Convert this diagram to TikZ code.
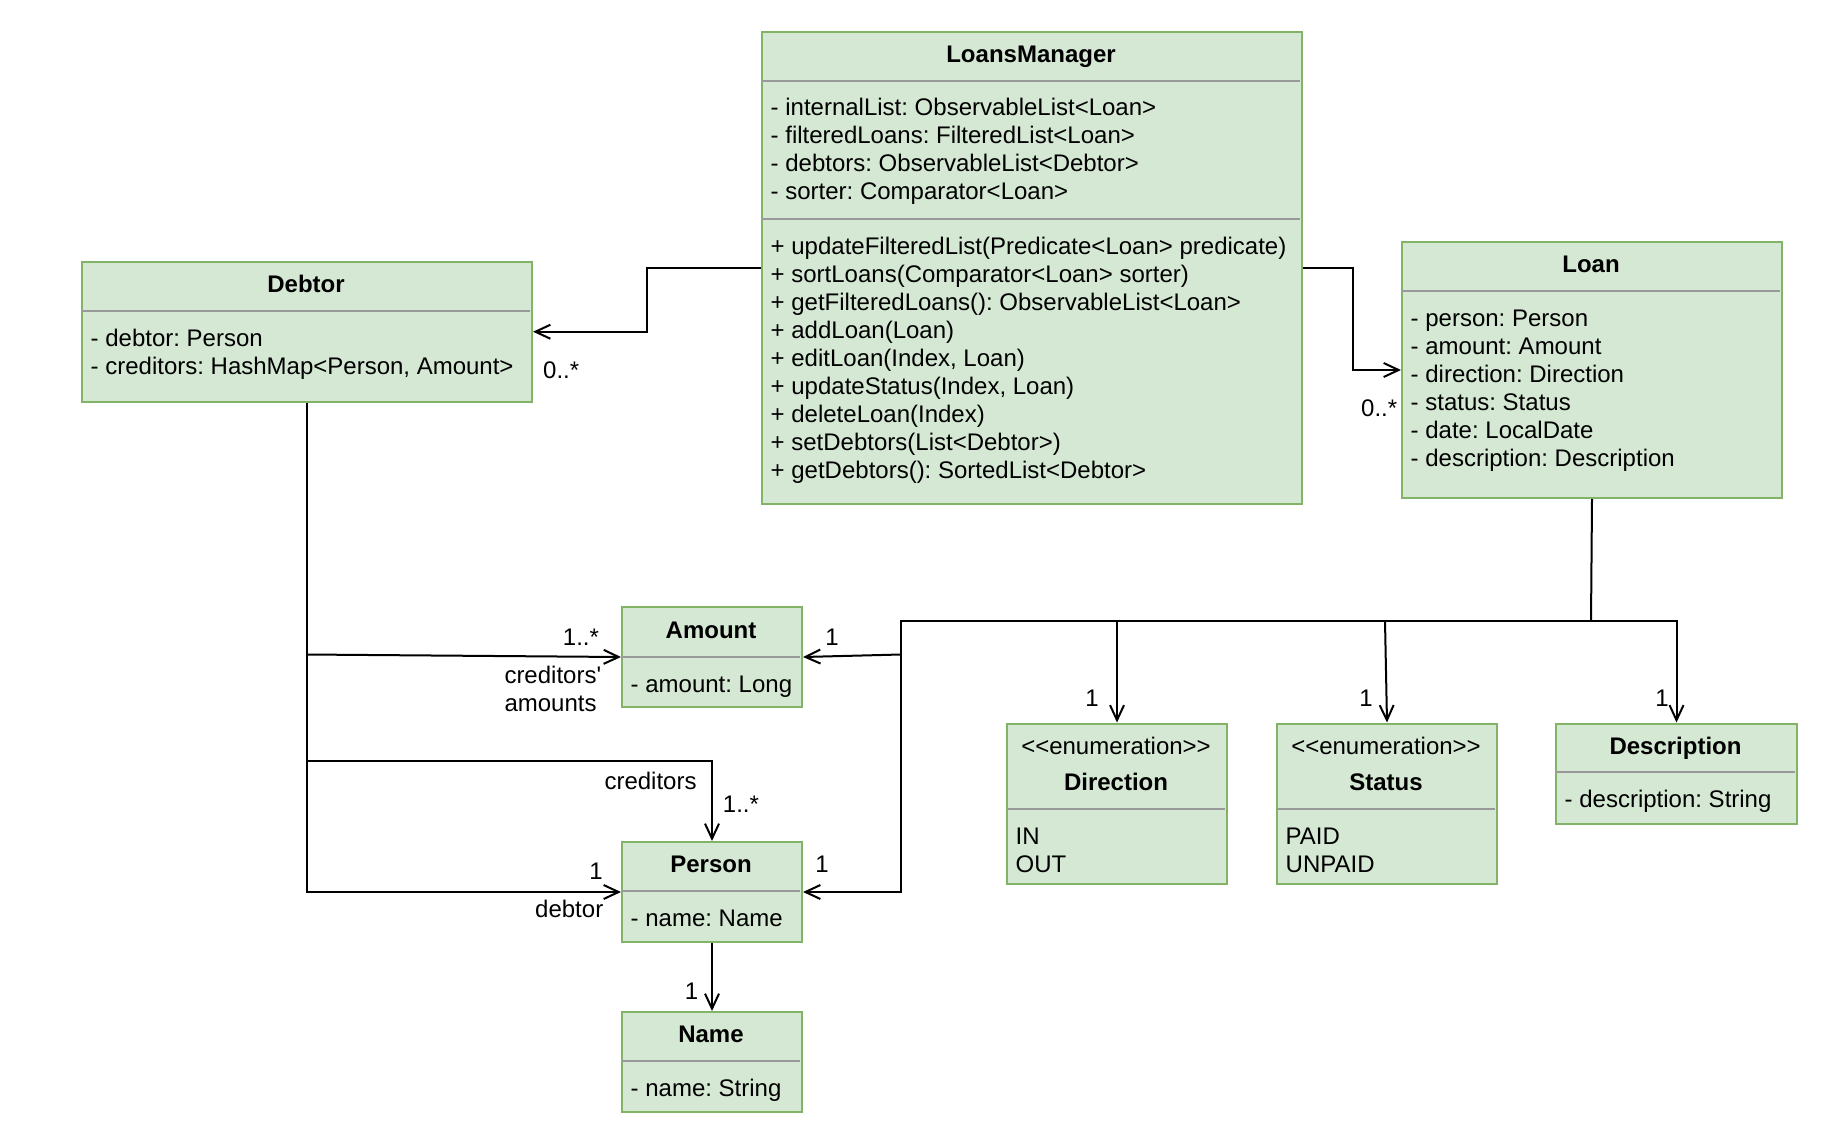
\documentclass[tikz,border=0pt]{standalone}
\usepackage{fontspec}
\setmainfont{Liberation Sans}[Ligatures=TeXOff]
\usetikzlibrary{arrows.meta}
\definecolor{boxfill}{HTML}{D5E8D4}
\definecolor{boxline}{HTML}{82B366}
\definecolor{divline}{HTML}{999999}
\frenchspacing
\newcount\tcnt
\newcommand\txtl[3]{\global\advance\tcnt by 1\relax\node[txt,anchor=base west] (t\the\tcnt) at (#1,#2) {#3};}
\newcommand\txtc[3]{\global\advance\tcnt by 1\relax\node[txt,anchor=base] (t\the\tcnt) at (#1,#2) {#3};}
\begin{document}
\begin{tikzpicture}[x=1pt,y=-1pt,
  font=\fontsize{24}{28}\selectfont\frenchspacing,
  cls/.style={rectangle, draw=boxline, fill=boxfill, line width=2pt, anchor=north west, inner sep=0pt},
  divl/.style={draw=divline, line width=2pt},
  txt/.style={inner sep=0pt},
  ttl/.style={inner sep=0pt, anchor=base, font=\fontsize{24}{28}\selectfont\bfseries},
  conn/.style={draw=black, line width=2pt},
  arr/.style={conn, -{Straight Barb[length=15pt,width=14pt]}}]
\useasboundingbox (0,0) rectangle (1822,1142);

% ---------- LoansManager
\node[cls, minimum width=540pt, minimum height=471.5pt] (lm) at (761,31) {};
\draw[divl] (762,81) -- (1300,81);
\draw[divl] (762,219) -- (1300,219);
\node[ttl] (lmt) at (1031,63) {LoansManager};
\txtl{770.5}{116}{- internalList: ObservableList<Loan>}
\txtl{770.5}{144}{- filteredLoans: FilteredList<Loan>}
\txtl{770.5}{172}{- debtors: ObservableList<Debtor>}
\txtl{770.5}{200}{- sorter: Comparator<Loan>}
\txtl{770.5}{254}{+ updateFilteredList(Predicate<Loan> predicate)}
\txtl{770.5}{282}{+ sortLoans(Comparator<Loan> sorter)}
\txtl{770.5}{310}{+ getFilteredLoans(): ObservableList<Loan>}
\txtl{770.5}{338}{+ addLoan(Loan)}
\txtl{770.5}{366}{+ editLoan(Index, Loan)}
\txtl{770.5}{394}{+ updateStatus(Index, Loan)}
\txtl{770.5}{422}{+ deleteLoan(Index)}
\txtl{770.5}{450}{+ setDebtors(List<Debtor>)}
\txtl{770.5}{478}{+ getDebtors(): SortedList<Debtor>}

% ---------- Debtor
\node[cls, minimum width=450pt, minimum height=139.5pt] (debtor) at (81,261) {};
\draw[divl] (82,311) -- (530,311);
\node[ttl] (debtort) at (306,292.5) {Debtor};
\txtl{90.5}{346}{- debtor: Person}
\txtl{90.5}{374}{- creditors: HashMap<Person, Amount>}

% ---------- Loan
\node[cls, minimum width=380pt, minimum height=256pt] (loan) at (1401,241) {};
\draw[divl] (1402,291) -- (1780,291);
\node[ttl] (loant) at (1591,272.5) {Loan};
\txtl{1410.5}{326}{- person: Person}
\txtl{1410.5}{354}{- amount: Amount}
\txtl{1410.5}{382}{- direction: Direction}
\txtl{1410.5}{410}{- status: Status}
\txtl{1410.5}{438}{- date: LocalDate}
\txtl{1410.5}{466}{- description: Description}

% ---------- Amount
\node[cls, minimum width=180pt, minimum height=100pt] (amount) at (621,606) {};
\draw[divl] (622,657) -- (800,657);
\node[ttl] (amountt) at (711,638) {Amount};
\txtl{630.5}{692}{- amount: Long}

% ---------- Person
\node[cls, minimum width=180pt, minimum height=100pt] (person) at (621,841) {};
\draw[divl] (622,891) -- (800,891);
\node[ttl] (persont) at (711,872.5) {Person};
\txtl{630.5}{926}{- name: Name}

% ---------- Name
\node[cls, minimum width=180pt, minimum height=100pt] (name) at (621,1011) {};
\draw[divl] (622,1061) -- (800,1061);
\node[ttl] (namet) at (711,1042.5) {Name};
\txtl{630.5}{1096}{- name: String}

% ---------- Direction
\node[cls, minimum width=220pt, minimum height=160.5pt] (dir) at (1006,722.5) {};
\draw[divl] (1007,809) -- (1225,809);
\txtc{1116}{754}{<{}<enumeration>{}>}
\node[ttl] (dirt) at (1116,790) {Direction};
\txtl{1015.5}{844}{IN}
\txtl{1015.5}{872}{OUT}

% ---------- Status
\node[cls, minimum width=220pt, minimum height=160.5pt] (status) at (1276,722.5) {};
\draw[divl] (1277,809) -- (1495,809);
\txtc{1386}{754}{<{}<enumeration>{}>}
\node[ttl] (statust) at (1386,790) {Status};
\txtl{1285.5}{844}{PAID}
\txtl{1285.5}{872}{UNPAID}

% ---------- Description
\node[cls, minimum width=241pt, minimum height=100pt] (desc) at (1555,722.5) {};
\draw[divl] (1556,772) -- (1795,772);
\node[ttl] (desct) at (1675.5,754) {Description};
\txtl{1564.5}{807}{- description: String}

% ---------- connectors
\draw[arr] (lm.west) -- ([xshift=-114pt]lm.west) |- (debtor.east);
\draw[arr] (lm.east) -- ([xshift=50pt]lm.east) |- (loan.west);

\coordinate (dj1) at (306,654.5);
\coordinate (dj2) at (306,761);
\draw[arr] (debtor.south) |- (person.west);
\draw[arr] (dj1) -- (amount.west);
\draw[arr] (dj2) -| (person.north);
\draw[arr] (person.south) -- (name.north);

\coordinate (lj) at (1591,621);
\coordinate (bl) at (901,621);
\coordinate (ar) at (901,654.5);
\coordinate (sj) at (1385,621);
\draw[conn] (loan.south) -- (lj);
\draw[arr] (lj) -- (bl) |- (person.east);
\draw[arr] (ar) -- (amount.east);
\draw[arr] (lj) -| (desc.north);
\draw[arr] (dir.north |- lj) -- (dir.north);
\draw[arr] (sj) -- (status.north);

% ---------- labels
\txtl{543}{378}{0..*}
\txtl{1361}{416}{0..*}
\txtl{562.7}{645}{1..*}
\txtl{504.3}{683.5}{creditors'}
\txtl{504.3}{711.5}{amounts}
\txtc{832}{645}{1}
\txtl{604.3}{789}{creditors}
\txtl{722.7}{812}{1..*}
\txtc{596}{879}{1}
\txtl{535}{917}{debtor}
\txtc{822}{872}{1}
\txtc{691.5}{999.5}{1}
\txtc{1092}{706}{1}
\txtc{1366}{706}{1}
\txtc{1662}{706}{1}
\end{tikzpicture}
\end{document}
